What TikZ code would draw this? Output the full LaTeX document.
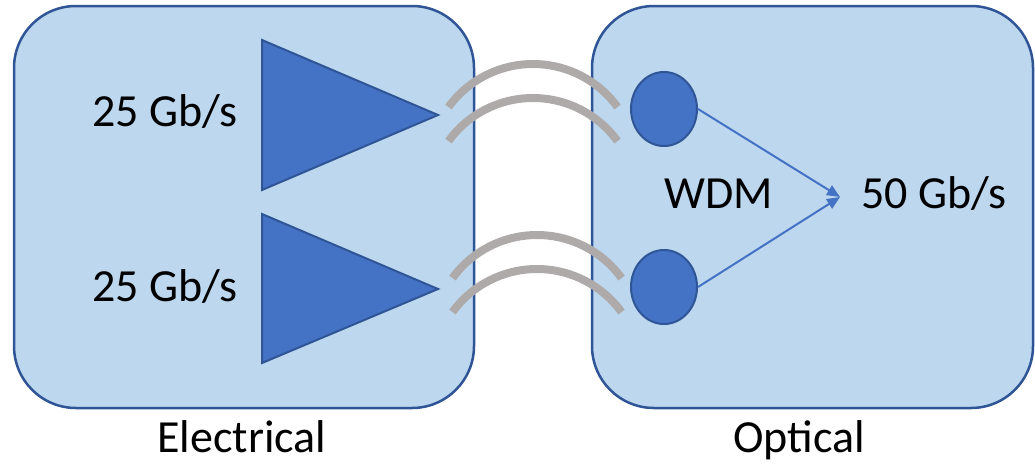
\documentclass[tikz,border=0pt]{standalone}
\usepackage{fontspec}
\setmainfont{Carlito}
\usetikzlibrary{shapes.geometric,arrows.meta}
\definecolor{panelfill}{HTML}{BDD7EE}
\definecolor{panelline}{HTML}{2F5597}
\definecolor{partfill}{HTML}{4472C4}
\definecolor{fibre}{HTML}{AEAAAA}
\tikzset{
  panel/.style={draw=panelline, fill=panelfill, line width=2.5pt, rounded corners=62pt},
  amp/.style={draw=panelline, fill=partfill, line width=2pt, line join=miter},
  port/.style={ellipse, draw=panelline, fill=partfill, line width=2pt,
               minimum width=66pt, minimum height=74pt, inner sep=0pt},
  fibrearc/.style={draw=fibre, line width=8pt},
  combine/.style={draw=partfill, line width=2pt, -{Triangle[length=13pt,width=11pt]}},
  lbl/.style={inner sep=0pt, anchor=base, font=\fontsize{46}{55}\selectfont}
}
\begin{document}
\begin{tikzpicture}[x=1pt,y=-1pt]
\useasboundingbox (0,0) rectangle (1035,463);

% panels
\draw[panel] (14,6) rectangle (474,408);
\draw[panel] (592,6) rectangle (1033,408);

% driver amplifiers
\draw[amp] (262,40) -- (438,115) -- (262,190) -- cycle;
\draw[amp] (262,214) -- (438,289) -- (262,363) -- cycle;

% fibre links (two arcs per channel); y grows downwards, so the arcs run 216 -> 324
\foreach \cx/\cy in {533/168.5, 533/202.5, 537/339.5, 537/373.5}
  \draw[fibrearc] (\cx,\cy) ++(216:104.5) arc[start angle=216, end angle=324, radius=104.5];

% optical ports
\node[port] (p1) at (664,109) {};
\node[port] (p2) at (664,287) {};
\coordinate (mux) at (840,197);
\draw[combine] (p1.east) -- (mux);
\draw[combine] (p2.east) -- (mux);

% labels
\node[lbl] (r1) at (165,126) {25 Gb/s};
\node[lbl] (r2) at (165,301) {25 Gb/s};
\node[lbl] (wdm) at (719,208) {WDM};
\node[lbl] (out) at (934,208) {50 Gb/s};
\node[lbl] (el) at (242,452) {Electrical};
\node[lbl] (op) at (799,452) {Optical};
\end{tikzpicture}
\end{document}
